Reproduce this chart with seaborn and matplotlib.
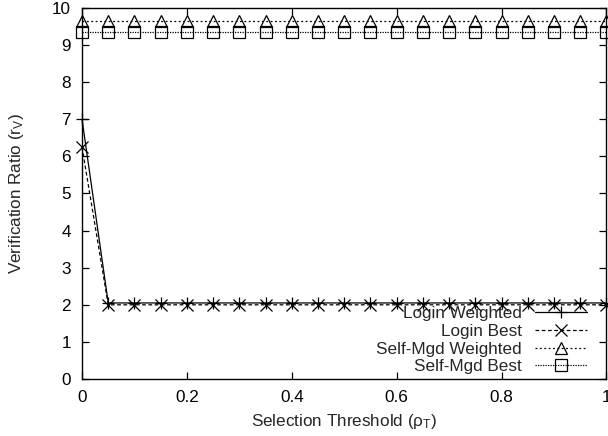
import matplotlib
matplotlib.use("Agg")
import matplotlib.pyplot as plt
import seaborn as sns
import numpy as np
import pandas as pd
from matplotlib.ticker import FuncFormatter

sns.set_style("ticks")
plt.rcParams['font.family'] = ['Liberation Sans', 'DejaVu Sans']
plt.rcParams['mathtext.fontset'] = 'custom'
plt.rcParams['mathtext.rm'] = 'Liberation Sans'
plt.rcParams['mathtext.it'] = 'Liberation Sans:italic'

thresholds = [0.0, 0.05, 0.1, 0.15, 0.2, 0.25, 0.3, 0.35, 0.4, 0.45, 0.5,
              0.55, 0.6, 0.65, 0.7, 0.75, 0.8, 0.85, 0.9, 0.95, 1.0]
login_weighted = [7.0] + [2.05] * 20
login_best = [6.25] + [2.0] * 20
selfmgd_weighted = [9.65] * 21
selfmgd_best = [9.35] * 21

series_names = ["Login Weighted", "Login Best", "Self-Mgd Weighted", "Self-Mgd Best"]
series_values = [login_weighted, login_best, selfmgd_weighted, selfmgd_best]

x_ticks = [0, 0.2, 0.4, 0.6, 0.8, 1]
y_ticks = list(range(0, 11))

styles = {
    "Login Weighted": dict(linestyle='-', marker='+'),
    "Login Best": dict(linestyle=(0, (3, 2)), marker='x'),
    "Self-Mgd Weighted": dict(linestyle=(0, (1.5, 2)), marker='^'),
    "Self-Mgd Best": dict(linestyle=(0, (1, 1)), marker='s'),
}

FS = 12.3

fig = plt.figure(figsize=(6.08, 4.36), dpi=100)
ax = fig.add_axes([0.1349, 0.1307, 0.8626, 0.851])

for name, vals in zip(series_names, series_values):
    df = pd.DataFrame({"x": thresholds, "y": vals})
    st = styles[name]
    sns.lineplot(data=df, x="x", y="y", ax=ax, color="black", linewidth=0.9,
                 linestyle=st["linestyle"], marker=st["marker"], markersize=9,
                 markerfacecolor='none', markeredgecolor='black',
                 markeredgewidth=0.9, label=name, clip_on=False)

ax.set_xlim(0, 1)
ax.set_ylim(0, 10)
ax.set_xticks(x_ticks)
ax.set_yticks(y_ticks)
ax.xaxis.set_major_formatter(FuncFormatter(lambda v, p: "%g" % v))
ax.tick_params(direction='in', length=5, width=0.9, top=True, right=True,
               labelsize=FS, colors='black')
ax.tick_params(axis='x', pad=8)
ax.tick_params(axis='y', pad=8)
for sp in ax.spines.values():
    sp.set_visible(True)
    sp.set_linewidth(1.0)
    sp.set_color('black')

ax.set_xlabel(r"Selection Threshold (ρ$_\mathregular{T}$)", fontsize=FS, labelpad=5)
ax.set_ylabel(r"Verification Ratio (r$_\mathregular{V}$)", fontsize=FS, labelpad=19)

leg = ax.legend(loc='lower right', frameon=False, markerfirst=False,
                handlelength=3.0, fontsize=FS, labelspacing=0.16,
                borderaxespad=0.0, handletextpad=0.8,
                bbox_to_anchor=(0.975, -0.006))
for t in leg.get_texts():
    t.set_ha('right')
leg._legend_box.align = "right"
for h in leg.legend_handles:
    h.set_markersize(8)

fig.savefig("out.png", dpi=100)
